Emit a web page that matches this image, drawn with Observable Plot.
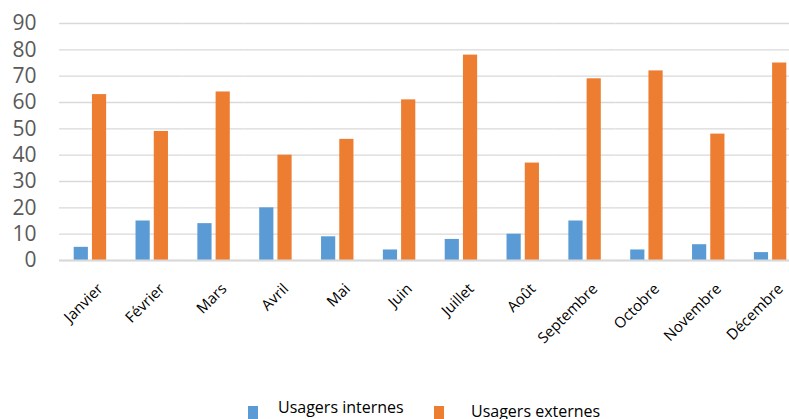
<!DOCTYPE html>
<html><head><meta charset="utf-8">
<script src="https://cdn.jsdelivr.net/npm/d3@7"></script>
<script src="https://cdn.jsdelivr.net/npm/@observablehq/plot@0.6"></script>
<style>
body{margin:0;background:#fff;font-family:"Open Sans",sans-serif;overflow:hidden;}
#wrap{position:relative;width:789px;height:419px;overflow:hidden;}
.leg{position:absolute;font-size:16px;line-height:20px;color:#000;white-space:nowrap;}
.sw{position:absolute;width:10px;height:14px;}
</style></head>
<body><div id="wrap"></div>
<script>
const months = ["Janvier","Février","Mars","Avril","Mai","Juin","Juillet","Août","Septembre","Octobre","Novembre","Décembre"];
const series = ["Usagers internes","Usagers externes"];
const internes = [5,15,14,20,9,4,8,10,15,4,6,3];
const externes = [63,49,64,40,46,61,78,37,69,72,48,75];
const colors = ["#5b9bd5","#ed7d31"];
const yTicks = [0,10,20,30,40,50,60,70,80,90];

const data = [];
months.forEach((m,i)=>{
  data.push({month:m, series:series[0], value:internes[i]});
  data.push({month:m, series:series[1], value:externes[i]});
});

const chart = Plot.plot({
  width:801, height:390,
  marginLeft:59, marginRight:0, marginTop:23, marginBottom:130,
  style:{fontFamily:"'Open Sans',sans-serif", background:"white", overflow:"visible", maxWidth:"none"},
  fx:{domain:months, padding:0, round:false, label:null},
  x:{domain:series, axis:null, paddingInner:0.222, paddingOuter:0.806, round:false},
  y:{domain:[0,90], axis:null},
  color:{domain:series, range:colors},
  marks:[
    Plot.ruleY(yTicks, {y:d=>d, stroke:"#d9d9d9", strokeWidth:1.3}),
    Plot.barY(data, {fx:"month", x:"series", y:"value", fill:"series"}),
    Plot.ruleY([0], {stroke:"#d9d9d9", strokeWidth:2}),
    Plot.axisY({ticks:yTicks, tickSize:0, tickPadding:0, dx:-23, fontSize:21, fill:"#595959", textAnchor:"end", label:null, facetAnchor:"left"}),
    Plot.axisFx({anchor:"bottom", tickSize:0, tickRotate:-45, fontSize:15, fill:"#000", label:null, dx:10, dy:14})
  ]
});
chart.style.display="block";
chart.style.maxWidth="none";
const wrap = document.getElementById("wrap");
wrap.appendChild(chart);

const leg = [{x:248, tx:278, s:0, ty:397},{x:434, tx:471, s:1, ty:401}];
leg.forEach(l=>{
  const sw = document.createElement("div");
  sw.className="sw"; sw.style.left=l.x+"px"; sw.style.top="406px"; sw.style.background=colors[l.s];
  wrap.appendChild(sw);
  const t = document.createElement("div");
  t.className="leg"; t.style.left=l.tx+"px"; t.style.top=l.ty+"px"; t.textContent=series[l.s];
  wrap.appendChild(t);
});
</script></body></html>
